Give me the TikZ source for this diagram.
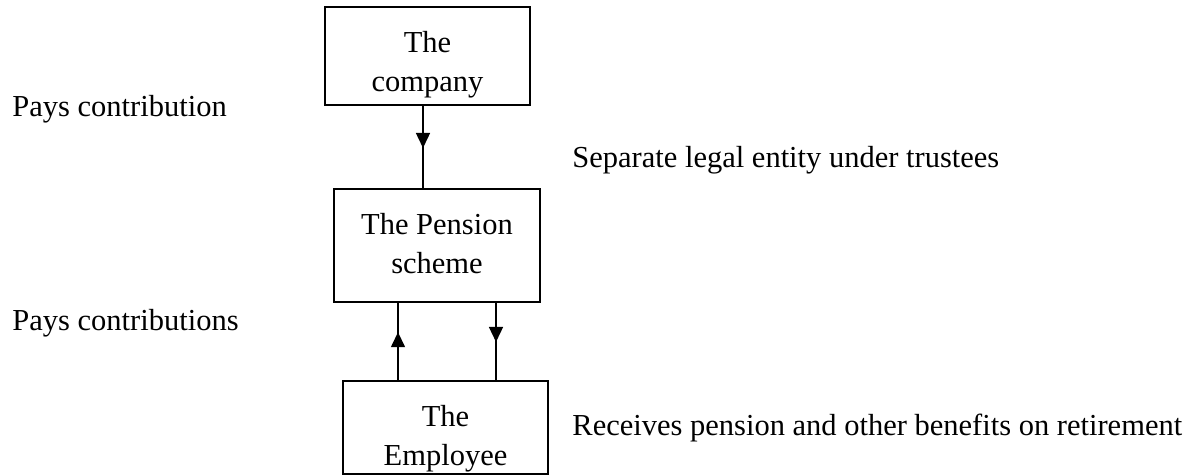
\documentclass[tikz,border=0pt]{standalone}
\usepackage{fontspec}
\setmainfont{Liberation Serif}
\usetikzlibrary{arrows.meta,decorations.markings}
\begin{document}
\begin{tikzpicture}[x=0.5pt,y=-0.5pt,
  every node/.style={font={\fontsize{15.25pt}{19.75pt}\selectfont}},
  box/.style={draw, line width=0.75pt, inner sep=0pt},
  boxtext/.style={inner sep=0pt, align=center, anchor=north},
  note/.style={inner sep=0pt, anchor=base west},
  flow/.style={line width=0.75pt, postaction={decorate},
    decoration={markings, mark=at position #1 with
      {\arrow{Triangle[length=7.5pt,width=7pt]}}}}
]
\useasboundingbox (0,0) rectangle (1192,475);

% the three parties
\node[box, minimum width=102.5pt, minimum height=49pt] (company) at (427.5,56) {};
\node[box, minimum width=103pt, minimum height=56.5pt] (pension) at (437,245.5) {};
\node[box, minimum width=102.5pt, minimum height=46.5pt] (employee) at (445.5,427.5) {};

\node[boxtext] (companytext) at ([yshift=-12.3pt]company.north) {The\\company};
\node[boxtext] (pensiontext) at ([yshift=-12.3pt]pension.north) {The Pension\\scheme};
\node[boxtext] (employeetext) at ([yshift=-12.3pt]employee.north) {The\\Employee};

% x positions of the connectors
\coordinate (xc) at (423,0);
\coordinate (xup) at (398,0);
\coordinate (xdown) at (496,0);

\draw[flow=0.512] (company.south -| xc) -- (pension.north -| xc);
\draw[flow=0.62] (employee.north -| xup) -- (pension.south -| xup);
\draw[flow=0.506] (pension.south -| xdown) -- (employee.north -| xdown);

% side notes
\node[note] (paysone) at (12,117) {Pays contribution};
\node[note] (paystwo) at (12,330) {Pays contributions};
\node[note] (separate) at (572,168) {Separate legal entity under trustees};
\node[note] (receives) at (572,435) {Receives pension and other benefits on retirement};
\end{tikzpicture}
\end{document}
